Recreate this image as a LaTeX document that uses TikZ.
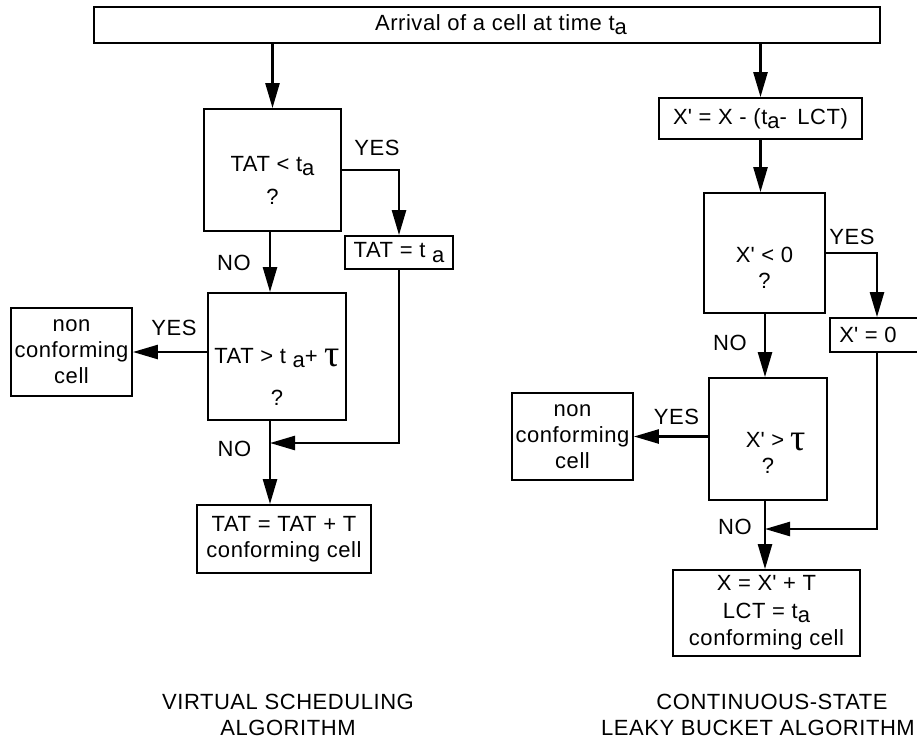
\documentclass[tikz,border=0pt]{standalone}
\usepackage{fontspec}
\setmainfont{Liberation Sans}[LetterSpace=2.5]
\newfontfamily\taufont{Liberation Serif}
\usetikzlibrary{arrows.meta}

\newcommand{\lowr}[1]{\raisebox{-0.35ex}{#1}}
\newcommand{\topgap}[1]{\rule{0pt}{#1}}
\newcommand{\bigtau}{\raisebox{-3pt}{\taufont\fontsize{38}{38}\selectfont τ}}
\newcommand{\apos}{\textquotesingle}

\tikzset{
  box/.style={draw, line width=1.8pt, inner sep=0pt, align=center},
  arr/.style={line width=2.5pt, -{Triangle[length=25pt,width=14pt]}},
  lbl/.style={inner sep=0pt}
}

\begin{document}
\begin{tikzpicture}[x=1pt, y=-1pt, font=\fontsize{22}{26}\selectfont]
\useasboundingbox (0,0) rectangle (917,742);
\clip (0,0) rectangle (917,742);
% top box
\node[box, minimum width=786, minimum height=36] (arrival) at (487,25) {\hspace*{28pt}Arrival of a cell at time t\lowr{a}};
% virtual scheduling
\node[box, minimum width=137, minimum height=122] (tatlt) at (272.5,170) {\topgap{36pt}TAT < t\lowr{a}\\[7pt]?};
\node[box, minimum width=108, minimum height=33] (tatset) at (399,252.5) {TAT = t \lowr{a}};
\node[box, minimum width=138, minimum height=127] (tatgt) at (277,356.5) {\topgap{55pt}TAT > t \lowr{a}+ \bigtau\\[16pt]?};
\node[box, minimum width=121, minimum height=88] (nonL) at (71.5,352) {non\\conforming\\cell};
\node[box, minimum width=174, minimum height=68] (confL) at (284,539) {TAT = TAT + T\\conforming cell};
\coordinate (mL) at (270,443);
% leaky bucket
\node[box, minimum width=203, minimum height=41] (xupd) at (760.5,118.5) {X\apos{} = X - (t\lowr{a}- \,LCT)};
\node[box, minimum width=121, minimum height=120] (xlt) at (764.5,253) {\topgap{44pt}X\apos{} < 0\\?};
\node[box, minimum width=110, minimum height=34] (xzero) at (885,335) {X\apos{} = 0\hspace*{34pt}};
\coordinate (xcol) at (877,335);
\node[box, minimum width=118, minimum height=122] (xgt) at (768,439) {\topgap{43pt}\hspace*{16pt}X\apos{} > \bigtau\\?};
\node[box, minimum width=121, minimum height=87] (nonR) at (572.5,436.5) {non\\conforming\\cell};
\node[box, minimum width=187, minimum height=86, font=\fontsize{22}{27.5}\selectfont] (confR) at (766.5,613) {X = X\apos{} + T\\LCT = t\lowr{a}\\conforming cell};
\coordinate (mR) at (765,529);
% YES / NO
\node[lbl] (yesA) at (377,148) {YES};
\node[lbl] (noA) at (234,263) {NO};
\node[lbl] (yesB) at (174,328) {YES};
\node[lbl] (noB) at (234.5,449) {NO};
\node[lbl] (yesC) at (852,237) {YES};
\node[lbl] (noC) at (730,343) {NO};
\node[lbl] (yesD) at (676.5,417) {YES};
\node[lbl] (noD) at (735,527) {NO};
% captions
\node[lbl, align=center] (capL) at (288,715) {VIRTUAL SCHEDULING\\ALGORITHM};
\node[lbl, align=center] (capR) at (758,715) {\hspace*{28pt}CONTINUOUS-STATE\\LEAKY BUCKET ALGORITHM};
% arrows
\draw[arr] (arrival.south -| tatlt.north) -- (tatlt.north);
\draw[arr] (tatlt.east) -| (tatset.north);
\draw[arr] (tatlt.south -| mL) -- (tatgt.north -| mL);
\draw[arr] (tatgt.west |- nonL) -- (nonL.east);
\draw[arr] (tatset.south) |- (mL);
\draw[arr] (tatgt.south -| mL) -- (confL.north -| mL);
\draw[arr] (arrival.south -| xupd.north) -- (xupd.north);
\draw[arr] (xupd.south) -- (xupd.south |- xlt.north);
\draw[arr] (xlt.east) -| (xcol |- xzero.north);
\draw[arr] (xlt.south -| mR) -- (xgt.north -| mR);
\draw[arr] (xgt.west |- nonR) -- (nonR.east);
\draw[arr] (xcol |- xzero.south) |- (mR);
\draw[arr] (xgt.south -| mR) -- (confR.north -| mR);
\end{tikzpicture}
\end{document}
